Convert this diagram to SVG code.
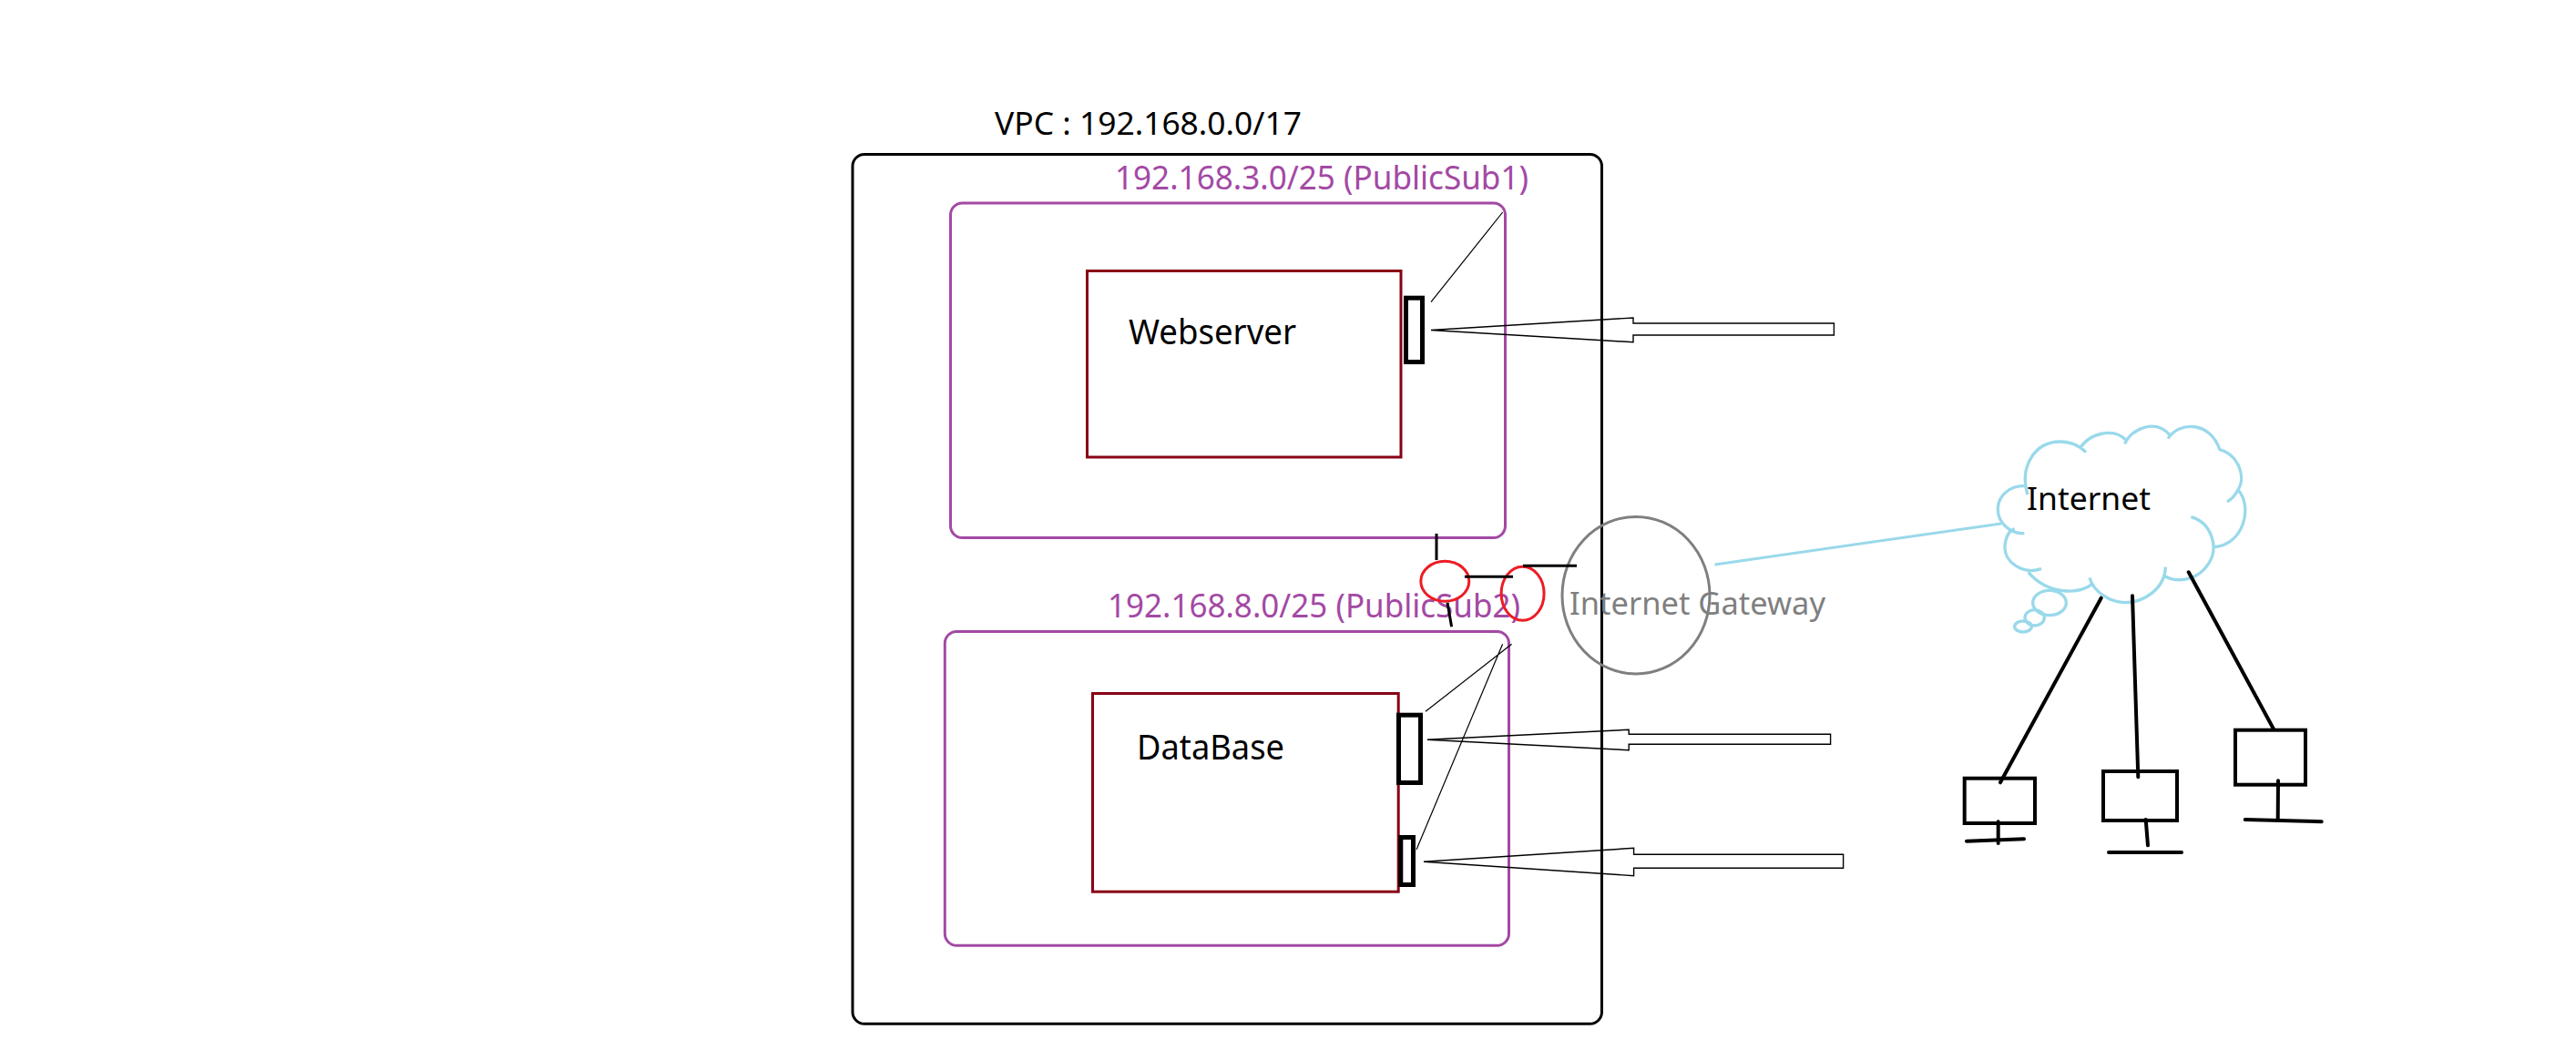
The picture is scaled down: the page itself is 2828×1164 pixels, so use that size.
<svg xmlns="http://www.w3.org/2000/svg" width="2828" height="1164" viewBox="0 0 2828 1164">
<style>
text{font-family:"Noto Sans","Open Sans","Liberation Sans",sans-serif;font-size:36px;fill:#000}
.sub{fill:#a349a4;font-size:35.5px}
.subnet{fill:none;stroke:#a349a4;stroke-width:3}
.server{fill:none;stroke:#880015;stroke-width:3}
.port{fill:none;stroke:#000;stroke-width:5}
.thin{fill:none;stroke:#000;stroke-width:1.2}
.arrow{fill:none;stroke:#000;stroke-width:1.4}
.red{fill:none;stroke:#ed1c24;stroke-width:3}
.blk{fill:none;stroke:#000;stroke-width:3}
.net{fill:none;stroke:#000;stroke-width:4;stroke-linecap:round}
.box{fill:none;stroke:#000;stroke-width:4}
.sky{fill:none;stroke:#99d9ea;stroke-width:10}
.skyline{fill:none;stroke:#99d9ea;stroke-width:3}
</style>
<rect width="2828" height="1164" fill="#fff"/>
<g id="vpc">
<rect x="936" y="169.5" width="822.5" height="954.8" rx="13" fill="none" stroke="#000" stroke-width="3"/>
<text x="1092" y="148" textLength="337" lengthAdjust="spacingAndGlyphs" style="font-size:35px">VPC : 192.168.0.0/17</text>
</g>
<g id="subnet1">
<rect class="subnet" x="1043.5" y="223" width="609" height="367.5" rx="13"/>
<text class="sub" x="1224" y="208" textLength="454" lengthAdjust="spacingAndGlyphs">192.168.3.0/25 (PublicSub1)</text>
</g>
<g id="subnet2">
<rect class="subnet" x="1037.3" y="693.5" width="619.2" height="344.8" rx="13"/>
<text class="sub" x="1216" y="678" textLength="453" lengthAdjust="spacingAndGlyphs">192.168.8.0/25 (PublicSub2)</text>
</g>
<g id="webserver">
<rect class="server" x="1193.5" y="297.5" width="344.5" height="204.5"/>
<text x="1239" y="378" textLength="184" lengthAdjust="spacingAndGlyphs" style="font-size:37.5px">Webserver</text>
<rect class="port" x="1543.5" y="327.2" width="18" height="70.3"/>
</g>
<g id="database">
<rect class="server" x="1199.5" y="761.5" width="335.7" height="217.7"/>
<text x="1248" y="834.3" textLength="162" lengthAdjust="spacingAndGlyphs" style="font-size:38.5px">DataBase</text>
<rect class="port" x="1535.5" y="785.2" width="24" height="74.3"/>
<rect class="port" x="1537.8" y="919.5" width="13.7" height="52"/>
</g>
<g id="gateway">
<ellipse cx="1796" cy="653.7" rx="81" ry="86.3" fill="none" stroke="#7f7f7f" stroke-width="3"/>
<text x="1723" y="675" textLength="281" lengthAdjust="spacingAndGlyphs" style="fill:#7f7f7f;font-size:34px">Internet Gateway</text>
</g>
<g id="router1"><ellipse class="red" cx="1586.3" cy="638.3" rx="26.5" ry="22"/></g>
<g id="router2"><ellipse class="red" cx="1671.6" cy="651.7" rx="23.5" ry="29.5"/></g>
<g id="internet">
<g transform="translate(2120 440) scale(.33333)">
<path class="sky" d="M318 310C290 220 340 135 425 135C460 135 490 150 510 170M492 155C520 110 600 85 642 130M638 142C660 90 740 60 785 112M780 125C820 65 920 70 950 160M948 160C1010 175 1040 250 1010 295C1000 315 990 325 975 333M1012 295C1060 350 1030 475 932 482M856 383C920 400 950 480 915 535C885 585 820 605 770 578M772 548C770 620 700 665 640 665C590 665 535 630 522 583M530 605C490 635 390 645 320 565M363 554C300 575 240 530 243 480C245 450 255 430 275 422M307 437C260 440 218 400 220 355C222 310 260 280 310 280"/>
<ellipse class="sky" cx="390" cy="666" rx="55" ry="41"/>
<ellipse class="sky" cx="341" cy="715" rx="32" ry="26"/>
<ellipse class="sky" cx="303" cy="744" rx="28" ry="18"/>
</g>
<text x="2225" y="560" textLength="136" lengthAdjust="spacingAndGlyphs" style="font-size:35px">Internet</text>
</g>
<g id="host1">
<rect class="box" x="2156.7" y="854.7" width="77.3" height="49.3"/>
<path class="net" d="M2193.7 902.3V926M2159 923.7L2222 921.3"/>
</g>
<g id="host2">
<rect class="box" x="2309" y="847" width="81" height="54"/>
<path class="net" d="M2355.7 900L2358 928.3M2315 936H2395"/>
</g>
<g id="host3">
<rect class="box" x="2454" y="801.7" width="77" height="60"/>
<path class="net" d="M2501 857.3L2500.7 900M2464.7 900L2548.7 902.3"/>
</g>
<g id="connectors">
<path class="thin" d="M1649.7 233L1571 331.7M1565 781.3L1659.6 707.3M1555 933L1649.6 707.3"/>
<polygon class="arrow" points="1571,362.5 1793,349 1793,355 2013.4,355 2013.4,368 1793,368 1793,375.7"/>
<polygon class="arrow" points="1567,812.3 1788.2,801.3 1788.2,806.3 2009.6,806.3 2009.6,817.3 1788.2,817.3 1788.2,823.7"/>
<polygon class="arrow" points="1563,946.3 1793.6,931.3 1793.6,938.3 2023.6,938.3 2023.6,953.3 1793.6,953.3 1793.6,961.7"/>
<path class="blk" d="M1577 586V615M1589 661.7L1593.6 688.3M1607.9 633.3H1661M1672 621.3H1731"/>
<path class="skyline" d="M1882.5 620L2197 575"/>
<path class="net" d="M2306.7 656.7L2196 859.3M2341 654.3L2347.3 853.3M2402.7 628.3L2495.7 800"/>
</g>
</svg>
